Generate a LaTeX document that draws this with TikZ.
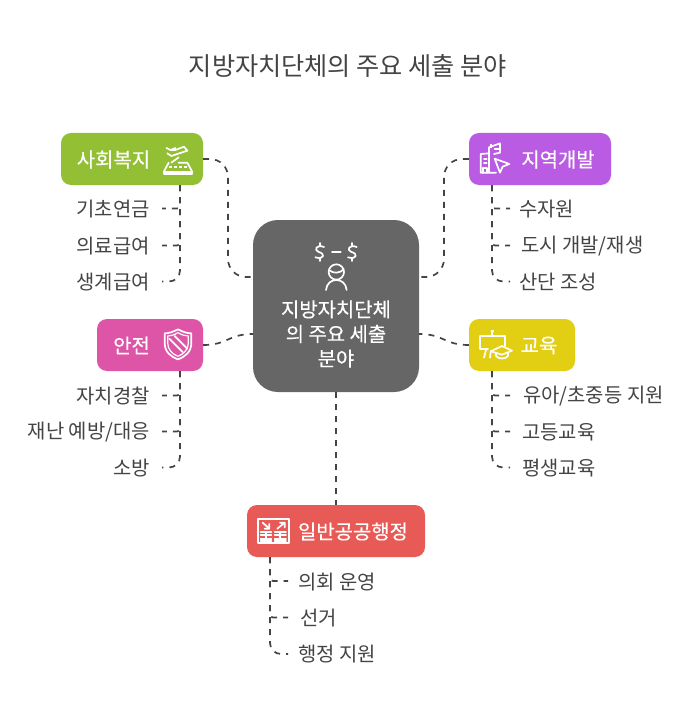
\documentclass[tikz,border=0pt]{standalone}
\usepackage{fontspec}
\setmainfont{Noto Sans CJK KR}
\newfontfamily\cardfont[FakeBold=0.35]{Noto Sans CJK KR}
\definecolor{ink}{HTML}{444444}
\definecolor{gr}{HTML}{93BF35}
\definecolor{pu}{HTML}{B95CE3}
\definecolor{pk}{HTML}{DE55A8}
\definecolor{ye}{HTML}{E2CE13}
\definecolor{re}{HTML}{E85A55}
\definecolor{ce}{HTML}{666666}
\tikzset{
 card/.style={rectangle,rounded corners=10pt,inner sep=0pt,minimum height=52pt},
 cardtext/.style={text=white,font=\fontsize{19.9}{24.6}\cardfont,inner sep=0pt,align=center},
 item/.style={text=ink,font=\fontsize{19.9}{24}\selectfont,inner sep=0pt},
 link/.style={draw=ink,line width=1.7pt,dash pattern=on 6pt off 6pt,rounded corners=18pt},
 trunk/.style={draw=ink,line width=1.7pt,dash pattern=on 6pt off 6pt,rounded corners=3pt},
 lasttrunk/.style={draw=ink,line width=1.7pt,dash pattern=on 6pt off 6pt,rounded corners=11pt},
 ico/.style={draw=white,line width=1.7pt,line cap=round,line join=round},
 zoomed/.style={x=0.3333pt,y=-0.3333pt}
}
\begin{document}
\begin{tikzpicture}[x=1pt,y=-1pt]
\useasboundingbox (0,0) rectangle (696,714);
\node[text=ink,font=\fontsize{25.2}{30}\selectfont,inner sep=0pt] (title) at (348,66) {지방자치단체의 주요 세출 분야};
% boxes
\node[card,fill=gr,minimum width=142pt] (soc) at (132,159) {};
\node[card,fill=pu,minimum width=142pt] (reg) at (540,159) {};
\node[card,fill=pk,minimum width=106pt] (saf) at (150,345) {};
\node[card,fill=ye,minimum width=106pt] (edu) at (522,345) {};
\node[card,fill=re,minimum width=178pt] (adm) at (336,531) {};
\node[rectangle,rounded corners=25pt,fill=ce,minimum width=166pt,minimum height=172pt,inner sep=0pt] (ctr) at (336,306) {};
% card labels
\node[cardtext] (socl) at (113.5,159.5) {사회복지};
\node[cardtext] (regl) at (558,159.5) {지역개발};
\node[cardtext] (safl) at (131.5,345.5) {안전};
\node[cardtext] (edul) at (539,345.5) {교육};
\node[cardtext] (adml) at (353,531.5) {일반공공행정};
\node[cardtext] (ctrl) at (336,334) {지방자치단체\\의 주요 세출\\분야};
% anchors on the centre box
\coordinate (cw1) at (253,277);
\coordinate (ce1) at (419,277);
\coordinate (cw2) at (253,334);
\coordinate (ce2) at (419,334);
% main links
\draw[link] (soc.east) -- (228,159) -- (228,277) -- (cw1);
\draw[link] (reg.west) -- (444,159) -- (444,277) -- (ce1);
\draw[link] (saf.east) .. controls (228,345) and (228,334) .. (cw2);
\draw[link] (edu.west) .. controls (444,345) and (444,334) .. (ce2);
\draw[link] (ctr.south) -- (adm.north);
% items
\foreach \n/\t/\x/\y/\a in {
 a1/기초연금/150/209/east,a2/의료급여/150/246/east,a3/생계급여/150/282/east,
 d1/자치경찰/150/396/east,d2/재난 예방\slash 대응/150/432/east,d3/소방/150/468/east,
 b1/수자원/519/209/west,b2/도시 개발\slash 재생/521/246/west,b3/산단 조성/519/282/west,
 e1/유아\slash 초중등 지원/523/396/west,e2/고등교육/522/432/west,e3/평생교육/522/468/west,
 f1/의회 운영/298/582/west,f2/선거/300/618/west,f3/행정 지원/298/654/west}
 {\node[item,anchor=\a] (\n) at (\x,\y) {\t};}
\coordinate (a1e) at (162,208.5);\coordinate (a2e) at (162,245.5);\coordinate (a3e) at (162,281.5);
\coordinate (d1e) at (162,395.5);\coordinate (d2e) at (162,431.5);\coordinate (d3e) at (162,467.5);
\coordinate (b1e) at (510,208.5);\coordinate (b2e) at (510,245.5);\coordinate (b3e) at (510,281.5);
\coordinate (e1e) at (510,395.5);\coordinate (e2e) at (510,431.5);\coordinate (e3e) at (510,467.5);
\coordinate (f1e) at (288,581);\coordinate (f2e) at (288,617.5);\coordinate (f3e) at (288,654);
% branches: each runs from its card to its item
\foreach \c/\x/\e in {soc/180/a1e,soc/180/a2e,saf/180/d1e,saf/180/d2e,reg/492/b1e,reg/492/b2e,edu/492/e1e,edu/492/e2e,adm/270/f1e,adm/270/f2e}
 {\draw[trunk] (\c.south -| \x,0) -- (\x,0 |- \e) -- (\e);}
\foreach \c/\x/\e in {soc/180/a3e,saf/180/d3e,reg/492/b3e,edu/492/e3e,adm/270/f3e}
 {\draw[lasttrunk] (\c.south -| \x,0) -- (\x,0 |- \e) -- (\e);}
% icon: runway / plane
\begin{scope}[shift={(158,142)},zoomed,ico]
 \draw (32,62) -- (17,90) -- (103,90) -- (88,62) -- (62,62);
 \draw (17,90) -- (17,96) -- (103,96) -- (103,90);
 \draw (25,18) -- (38,24) -- (52,18) (28,34) -- (40,42) -- (88,26) -- (78,14) -- (52,24) -- (38,24);
 \draw (40,62) -- (62,46);
 \draw[line width=1.7pt,dash pattern=on 2.6pt off 2.4pt,line cap=butt] (34,74) -- (88,74);
\end{scope}
% icon: building and cursor
\begin{scope}[shift={(474,140)},zoomed,ico]
 \draw (66,98) -- (20,98) -- (20,42) -- (45,40) -- (45,98);
 \draw (45,40) -- (45,22) -- (78,10) -- (78,38) -- (60,42);
 \draw (30,56) -- (38,56) (30,68) -- (38,68);
 \draw (28,98) -- (28,84) -- (38,84) -- (38,98);
 \draw (52,14) -- (52,22) (62,26) -- (76,26);
 \draw (62,56) -- (106,72) -- (86,80) -- (78,98) -- cycle;
\end{scope}
% icon: centre figure
\begin{scope}[shift={(306,238)},zoomed,ico]
 \draw (54,27) .. controls (32,18) and (22,36) .. (38,42) .. controls (58,46) and (56,66) .. (28,58);
 \draw (41,15) -- (41,22) (41,62) -- (41,69);
 \draw (152,27) .. controls (130,18) and (120,36) .. (136,42) .. controls (156,46) and (154,66) .. (126,58);
 \draw (139,15) -- (139,22) (139,62) -- (139,69);
 \draw (78,42) -- (104,42);
 \draw (91,102) circle[radius=23];
 \draw (69,96) .. controls (82,108) and (102,106) .. (113,94);
 \draw (60,156) .. controls (62,136) and (76,126) .. (91,126) .. controls (106,126) and (120,136) .. (122,156);
\end{scope}
% icon: shield
\begin{scope}[shift={(158,326)},zoomed,ico]
 \draw (60,10) .. controls (75,18) and (88,22) .. (100,22) -- (100,50) .. controls (100,78) and (82,92) .. (60,100) .. controls (38,92) and (20,78) .. (20,50) -- (20,22) .. controls (32,22) and (45,18) .. (60,10) -- cycle;
 \draw[line width=1.2pt] (60,20) .. controls (72,27) and (82,30) .. (91,30) -- (91,50) .. controls (91,70) and (78,84) .. (60,91) .. controls (42,84) and (29,70) .. (29,50) -- (29,30) .. controls (38,30) and (48,27) .. (60,20) -- cycle;
 \draw (34,38) -- (74,78) (50,30) -- (88,68);
\end{scope}
% icon: board and cap
\begin{scope}[shift={(474,326)},zoomed,ico]
 \draw (18,30) -- (92,30) -- (92,60) (18,30) -- (18,70) -- (42,70);
 \draw (55,30) -- (55,16);
 \draw (52,14) -- (58,14);
 \draw (50,76) -- (84,60) -- (114,74) -- (84,86) -- cycle;
 \draw (66,82) -- (66,90) .. controls (74,100) and (94,100) .. (102,90) -- (102,80);
 \draw (30,95) -- (36,72) (48,95) -- (50,78);
\end{scope}
% icon: table with arrows
\begin{scope}[shift={(254,514)},zoomed,ico]
 \draw (12,15) rectangle (106,88);
 \draw (26,26) -- (46,44) (46,30) -- (46,44) -- (32,44);
 \draw (92,26) -- (70,44) (78,26) -- (92,26) -- (92,40);
 \draw (20,54) -- (52,54) (20,64) -- (52,64) (20,74) -- (52,74) (20,82) -- (52,82);
 \draw (62,54) -- (96,54) (62,64) -- (96,64) (62,74) -- (96,74) (62,82) -- (96,82);
 \draw (36,54) -- (36,82) (79,54) -- (79,82);
\end{scope}
\end{tikzpicture}
\end{document}
